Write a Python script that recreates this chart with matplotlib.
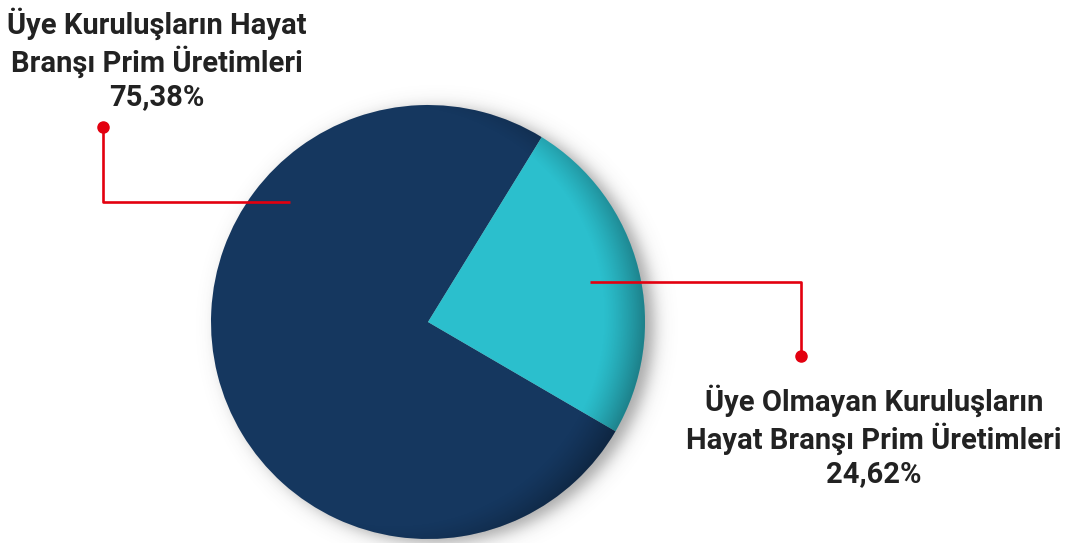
import numpy as np
import matplotlib
matplotlib.use("Agg")
import matplotlib.pyplot as plt
from matplotlib.patches import Circle

# data
labels = ["Üye Kuruluşların Hayat\nBranşı Prim Üretimleri\n75,38%",
          "Üye Olmayan Kuruluşların\nHayat Branşı Prim Üretimleri\n24,62%"]
values = [75.38, 24.62]
colors = ["#15375f", "#2bbfcd"]

W, H = 1072, 543
fig = plt.figure(figsize=(W / 100, H / 100), dpi=100)
ax = fig.add_axes([0, 0, 1, 1])

cx, cy, R = 428, H - 322, 217

# drop shadow behind the pie
yy, xx = np.mgrid[0:H, 0:W] + 0.5
d = np.hypot(xx - (cx + 9), yy - (cy - 4))
sh = 0.5 / (1 + np.exp(-(R - d) / 5.0))
img = np.zeros((H, W, 4))
img[..., :3] = 0.3
img[..., 3] = sh
ax.imshow(img, extent=(0, W, 0, H), origin="lower", zorder=0)

wedges, _ = ax.pie(values, colors=colors, startangle=58.4, counterclock=True,
                   center=(cx, cy), radius=R, frame=True,
                   wedgeprops=dict(linewidth=0))
for w in wedges:
    w.set_zorder(1)

# inner shading toward the right edge
s = 34
d2 = np.hypot(xx - (cx - s), yy - (cy + 6))
t = np.clip((d2 - R + 8) / (s + 8), 0, 1)
inner = np.zeros((H, W, 4))
inner[..., 3] = 0.33 * t ** 1.3
im = ax.imshow(inner, extent=(0, W, 0, H), origin="lower", zorder=2)
im.set_clip_path(Circle((cx, cy), R, transform=ax.transData))

ax.set_xlim(0, W)
ax.set_ylim(0, H)
ax.set_aspect("equal")
ax.axis("off")

red = "#e3000f"
# left leader
ax.plot([103, 103, 290], [H - 127, H - 202, H - 202], color=red, lw=1.9, zorder=3,
        solid_capstyle="butt")
ax.plot([103], [H - 127], "o", color=red, ms=8, zorder=3)
# right leader
ax.plot([590, 801, 801], [H - 282, H - 282, H - 356], color=red, lw=1.9, zorder=3,
        solid_capstyle="butt")
ax.plot([801], [H - 356], "o", color=red, ms=8, zorder=3)

font = dict(family="Roboto", weight="bold", size=21, color="#222222",
            ha="center", va="center", linespacing=1.22)
ax.text(157, H - 59, labels[0], **font)
ax.text(874, H - 436, labels[1], **font)

fig.savefig("out.png", dpi=100)
